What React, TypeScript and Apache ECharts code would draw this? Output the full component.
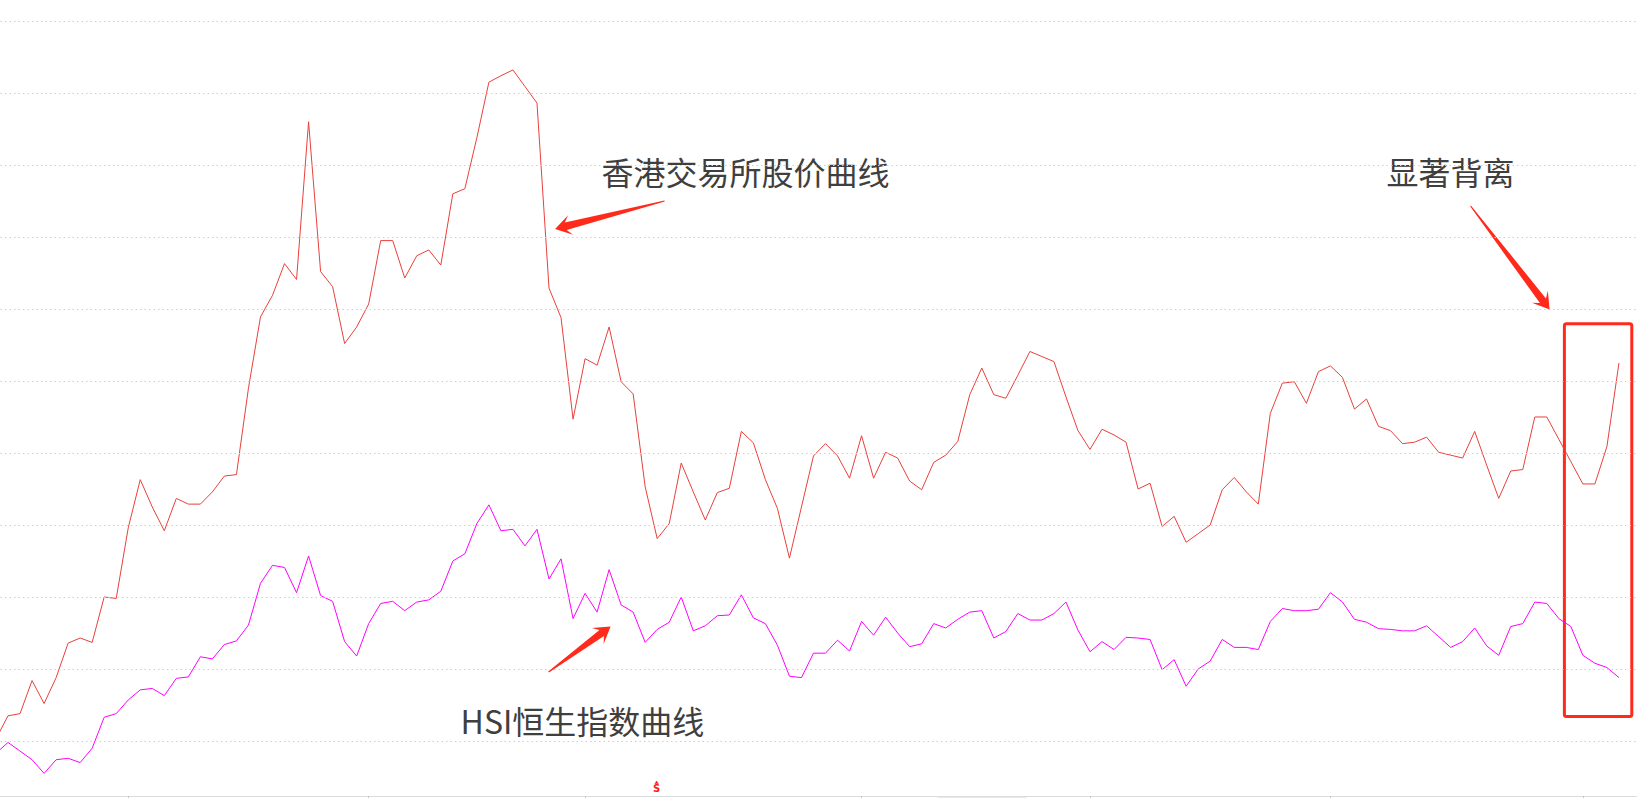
import React, { useEffect, useRef } from "react";
import * as echarts from "echarts";

// HKEX (香港交易所) share price curve, in chart units (gridline = 1 unit)
const hkexPrice = [
  1.03, 1.35, 1.38, 1.84, 1.52, 1.88, 2.36, 2.43, 2.37, 3.0,
  2.98, 3.96, 4.63, 4.25, 3.92, 4.37, 4.29, 4.29, 4.46, 4.68,
  4.7, 5.9, 6.89, 7.19, 7.63, 7.41, 9.6, 7.52, 7.31, 6.52,
  6.75, 7.07, 7.95, 7.95, 7.43, 7.74, 7.82, 7.61, 8.6, 8.67,
  9.38, 10.15, 10.24, 10.32, 10.09, 9.86, 7.29, 6.88, 5.47, 6.31,
  6.22, 6.75, 5.99, 5.82, 4.53, 3.81, 4.02, 4.86, 4.46, 4.07,
  4.45, 4.51, 5.3, 5.14, 4.63, 4.23, 3.54, 4.25, 4.96, 5.13,
  4.96, 4.65, 5.24, 4.65, 5.01, 4.93, 4.61, 4.49, 4.87, 4.97,
  5.16, 5.81, 6.18, 5.81, 5.76, 6.08, 6.41, 6.34, 6.27, 5.78,
  5.31, 5.05, 5.33, 5.25, 5.15, 4.5, 4.58, 3.98, 4.12, 3.76,
  3.88, 4.0, 4.49, 4.66, 4.46, 4.29, 5.55, 5.97, 5.99, 5.69,
  6.13, 6.21, 6.05, 5.61, 5.75, 5.37, 5.31, 5.13, 5.15, 5.22,
  5.01, 4.97, 4.93, 5.3, 4.83, 4.37, 4.75, 4.77, 5.5, 5.5,
  5.19, 4.88, 4.57, 4.57, 5.09, 6.25,
];

// HSI 恒生指数 curve, same chart units
const hsiIndex = [
  0.83, 0.98, 0.86, 0.74, 0.55, 0.74, 0.76, 0.7, 0.9, 1.33,
  1.38, 1.57, 1.71, 1.73, 1.63, 1.87, 1.89, 2.17, 2.14, 2.34,
  2.39, 2.61, 3.19, 3.44, 3.41, 3.06, 3.57, 3.02, 2.94, 2.38,
  2.18, 2.63, 2.91, 2.94, 2.81, 2.93, 2.96, 3.08, 3.5, 3.6,
  4.02, 4.28, 3.92, 3.94, 3.71, 3.94, 3.25, 3.53, 2.7, 3.05,
  2.79, 3.38, 2.89, 2.79, 2.37, 2.55, 2.65, 3.0, 2.53, 2.6,
  2.74, 2.75, 3.03, 2.71, 2.63, 2.33, 1.9, 1.88, 2.22, 2.22,
  2.4, 2.25, 2.66, 2.47, 2.72, 2.5, 2.31, 2.35, 2.63, 2.57,
  2.69, 2.79, 2.81, 2.43, 2.52, 2.77, 2.68, 2.68, 2.77, 2.93,
  2.54, 2.24, 2.38, 2.27, 2.44, 2.43, 2.41, 1.99, 2.13, 1.76,
  2.0, 2.11, 2.41, 2.3, 2.3, 2.27, 2.66, 2.84, 2.81, 2.81,
  2.83, 3.06, 2.93, 2.69, 2.65, 2.56, 2.55, 2.53, 2.53, 2.6,
  2.45, 2.3, 2.38, 2.57, 2.32, 2.19, 2.59, 2.63, 2.93, 2.91,
  2.7, 2.59, 2.19, 2.08, 2.02, 1.88,
];

// trading-day categories (136 days plus 2 empty slots at the right edge)
const tradingDays = Array.from({ length: 138 }, (_, i) => `第${i + 1}日`);
// category indices where a month starts (x-axis tick marks)
const monthStartIdx = [11, 31, 49, 72, 91, 111, 132];
// dotted horizontal gridline levels
const gridLevels = [1, 2, 3, 4, 5, 6, 7, 8, 9, 10, 11];

const annotationTexts = ["香港交易所股价曲线", "HSI恒生指数曲线", "显著背离"];

// the chart canvas is shifted left so the first trading day sits just off-screen
const SHIFT_X = 3.6;
const CHART_W = 1647.4;

function arrowPolygon(tx: number, ty: number, px: number, py: number) {
  tx += SHIFT_X;
  px += SHIFT_X;
  const dx = px - tx;
  const dy = py - ty;
  const L = Math.hypot(dx, dy);
  const ux = dx / L;
  const uy = dy / L;
  const nx = -uy;
  const ny = ux;
  const tailHalf = 0.6;
  const neckBack = 11;
  const neckHalf = 3.8;
  const headLen = 16;
  const headHalf = 10;
  const nkx = px - ux * neckBack;
  const nky = py - uy * neckBack;
  const bx = px - ux * headLen;
  const by = py - uy * headLen;
  return [
    [tx + nx * tailHalf, ty + ny * tailHalf],
    [nkx + nx * neckHalf, nky + ny * neckHalf],
    [bx + nx * headHalf, by + ny * headHalf],
    [px, py],
    [bx - nx * headHalf, by - ny * headHalf],
    [nkx - nx * neckHalf, nky - ny * neckHalf],
    [tx - nx * tailHalf, ty - ny * tailHalf],
  ];
}

export default function App() {
  const ref = useRef<HTMLDivElement>(null);

  useEffect(() => {
    document.body.style.margin = "0";
    document.body.style.overflow = "hidden";
    if (!ref.current) return;
    const chart = echarts.init(ref.current, undefined, { renderer: "svg" });

    const textFont = '"Noto Sans CJK SC", "Noto Sans", sans-serif';
    const textColor = "#3f3f3f";
    const arrowColor = "#ff2a1a";
    const sx = (x: number) => x + SHIFT_X;

    const label = (text: string, x: number, y: number) => ({
      type: "text",
      x: sx(x),
      y,
      style: {
        text,
        fill: textColor,
        fontSize: 32,
        fontFamily: textFont,
        align: "left",
        verticalAlign: "middle",
      },
    });

    chart.setOption({
      animation: false,
      backgroundColor: "#ffffff",
      grid: { left: 0, right: 0, top: 21, bottom: 2, containLabel: false },
      xAxis: {
        type: "category",
        boundaryGap: false,
        data: tradingDays,
        axisLine: { show: true, lineStyle: { color: "#dcdcdc", width: 1 } },
        axisTick: {
          show: true,
          length: 5,
          interval: (index: number) => monthStartIdx.includes(index),
          lineStyle: { color: "#c8c8c8" },
        },
        axisLabel: { show: false },
        splitLine: { show: false },
      },
      yAxis: {
        type: "value",
        min: 0.2361,
        max: 11,
        axisLine: { show: false },
        axisTick: { show: false },
        axisLabel: { show: false },
        splitLine: { show: false },
      },
      series: [
        {
          name: "HSI恒生指数",
          type: "line",
          data: hsiIndex,
          showSymbol: false,
          symbol: "none",
          lineStyle: { color: "#ff00ff", width: 1 },
          itemStyle: { color: "#ff00ff" },
          z: 2,
          markLine: {
            silent: true,
            symbol: ["none", "none"],
            label: { show: false },
            lineStyle: { color: "#cfcfcf", width: 1, type: [1.5, 3] },
            data: gridLevels.map((v) => ({ yAxis: v })),
          },
        },
        {
          name: "香港交易所",
          type: "line",
          data: hkexPrice,
          showSymbol: false,
          symbol: "none",
          lineStyle: { color: "#e8413c", width: 1 },
          itemStyle: { color: "#e8413c" },
          z: 3,
        },
      ],
      graphic: [
        label(annotationTexts[0], 602, 171),
        label(annotationTexts[1], 461, 720),
        label(annotationTexts[2], 1387, 171),
        {
          type: "polygon",
          shape: { points: arrowPolygon(665, 201, 555.5, 229) },
          style: { fill: arrowColor },
        },
        {
          type: "polygon",
          shape: { points: arrowPolygon(549, 672, 611, 626.5) },
          style: { fill: arrowColor },
        },
        {
          type: "polygon",
          shape: { points: arrowPolygon(1471, 206, 1550, 309.5) },
          style: { fill: arrowColor },
        },
        {
          type: "rect",
          shape: { x: sx(1564.8), y: 323.8, width: 67.4, height: 392.7, r: 2 },
          style: { fill: "none", stroke: arrowColor, lineWidth: 3 },
        },
        {
          type: "polygon",
          shape: { points: [[sx(657), 780.8], [sx(654.8), 783.8], [sx(659.2), 783.8]] },
          style: { fill: "#ff1a1a" },
        },
        {
          type: "text",
          x: sx(657),
          y: 788.5,
          style: {
            text: "S",
            fill: "#ff1a1a",
            fontSize: 10,
            fontWeight: "bold",
            fontFamily: '"DejaVu Sans", sans-serif',
            align: "center",
            verticalAlign: "middle",
          },
        },
        {
          type: "rect",
          shape: { x: sx(938), y: 797, width: 89, height: 1 },
          style: { fill: "#e8e8e8" },
        },
      ],
    });

    return () => {
      chart.dispose();
    };
  }, []);

  return (
    <div
      style={{
        position: "absolute",
        left: 0,
        top: 0,
        width: 1637,
        height: 798,
        overflow: "hidden",
        background: "#fff",
      }}
    >
      <div
        ref={ref}
        style={{ position: "absolute", left: -SHIFT_X, top: 0, width: CHART_W, height: 798 }}
      />
    </div>
  );
}
